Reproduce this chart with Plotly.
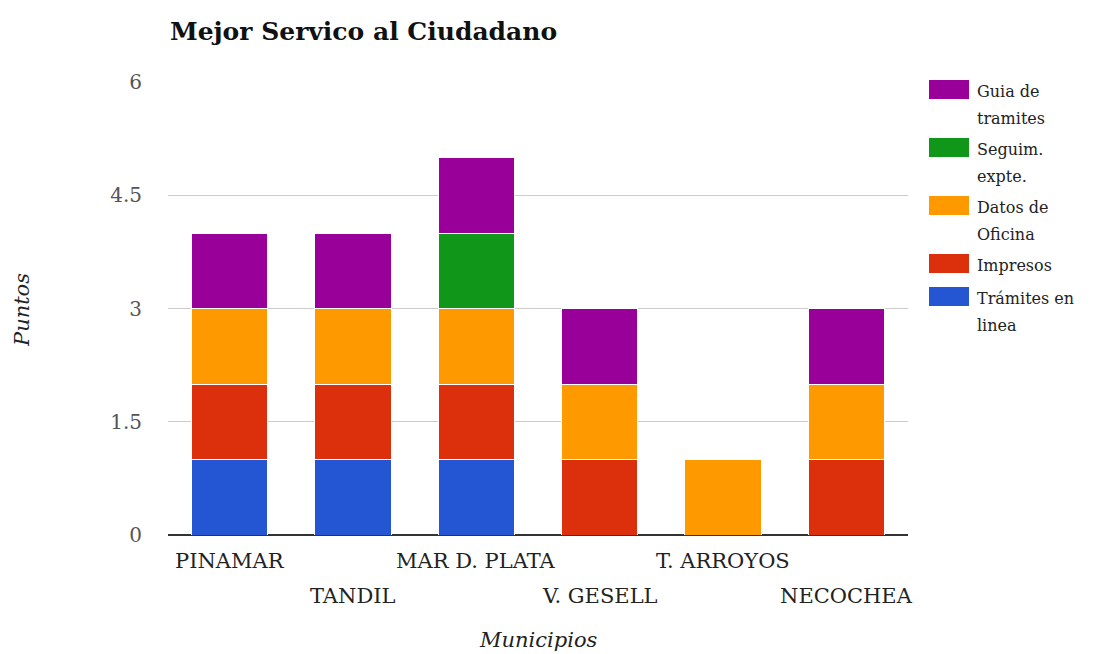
import plotly.graph_objects as go

# Municipalities on the x axis
municipios = ["PINAMAR", "TANDIL", "MAR D. PLATA", "V. GESELL", "T. ARROYOS", "NECOCHEA"]

# Points per service (stacked bottom to top)
tramites_en_linea = [1, 1, 1, 0, 0, 0]
impresos = [1, 1, 1, 1, 0, 1]
datos_de_oficina = [1, 1, 1, 1, 1, 1]
seguim_expte = [0, 0, 1, 0, 0, 0]
guia_de_tramites = [1, 1, 1, 1, 0, 1]

series_names = ["Trámites en linea", "Impresos", "Datos de Oficina", "Seguim. expte.", "Guia de tramites"]
series_lines = [["Trámites en", "linea"], ["Impresos"], ["Datos de", "Oficina"],
                ["Seguim.", "expte."], ["Guia de", "tramites"]]
series_values = [tramites_en_linea, impresos, datos_de_oficina, seguim_expte, guia_de_tramites]
series_colors = ["#2456d3", "#dc300c", "#ff9900", "#109618", "#990099"]

y_ticks = [0, 1.5, 3, 4.5, 6]
y_ticktext = ["0", "1.5", "3", "4.5", "6"]

W, H = 1099, 654
L, R, T, B = 168, 191, 82, 119
PW, PH = W - L - R, H - T - B

SERIF = "DejaVu Serif"

fig = go.Figure()
for name, vals, color in zip(series_names, series_values, series_colors):
    fig.add_trace(go.Bar(
        x=municipios, y=vals, name=name,
        marker=dict(color=color, line=dict(color="white", width=1)),
        showlegend=False,
    ))


def px_x(px):
    return (px - L) / PW


def px_y(py):
    return (H - B - py) / PH


shapes = []
annotations = []

# Legend: top entry is the last series, as in the stack
cy = 89.5
for lines, color in zip(reversed(series_lines), reversed(series_colors)):
    shapes.append(dict(type="rect", xref="paper", yref="paper",
                       x0=px_x(929), x1=px_x(969), y0=px_y(cy + 9.5), y1=px_y(cy - 9.5),
                       fillcolor=color, line=dict(width=0)))
    for i, ln in enumerate(lines):
        annotations.append(dict(xref="paper", yref="paper", x=px_x(975), y=px_y(cy + 2 + 27 * i),
                                text=ln, showarrow=False, xanchor="left", yanchor="middle",
                                font=dict(family=SERIF, size=16, color="#222")))
    cy += 33 + 25 * (len(lines) - 1)

# Staggered category labels under the axis
for i, m in enumerate(municipios):
    annotations.append(dict(xref="x", yref="y", x=m, y=0, text=m, showarrow=False,
                            xanchor="center", yanchor="top", yshift=-12 if i % 2 == 0 else -47,
                            font=dict(family=SERIF, size=21, color="#222")))

# Titles
annotations.append(dict(xref="paper", yref="paper", x=0, y=px_y(31), text="<b>Mejor Servico al Ciudadano</b>",
                        showarrow=False, xanchor="left", yanchor="middle",
                        font=dict(family=SERIF, size=25, color="#111")))
annotations.append(dict(xref="paper", yref="paper", x=0.5, y=px_y(640), text="<i>Municipios</i>",
                        showarrow=False, xanchor="center", yanchor="middle",
                        font=dict(family=SERIF, size=21, color="#222")))
annotations.append(dict(xref="paper", yref="paper", x=px_x(22), y=px_y(310), text="<i>Puntos</i>",
                        showarrow=False, xanchor="center", yanchor="middle", textangle=-90,
                        font=dict(family=SERIF, size=21, color="#222")))

fig.update_layout(
    width=W, height=H,
    margin=dict(l=L, r=R, t=T, b=B),
    barmode="stack", bargap=0.38,
    plot_bgcolor="white", paper_bgcolor="white",
    shapes=shapes, annotations=annotations,
    xaxis=dict(showticklabels=False, showgrid=False, ticks="", range=[-0.5, 5.5],
               showline=False, zeroline=False),
    yaxis=dict(range=[0, 6], tickvals=y_ticks, ticktext=y_ticktext, showgrid=True,
               gridcolor="#cccccc", gridwidth=1, zeroline=True, zerolinecolor="#333333",
               zerolinewidth=2, ticks="", ticklabelstandoff=25,
               tickfont=dict(family=SERIF, size=20, color="#555")),
)

fig.write_html("out.html")
